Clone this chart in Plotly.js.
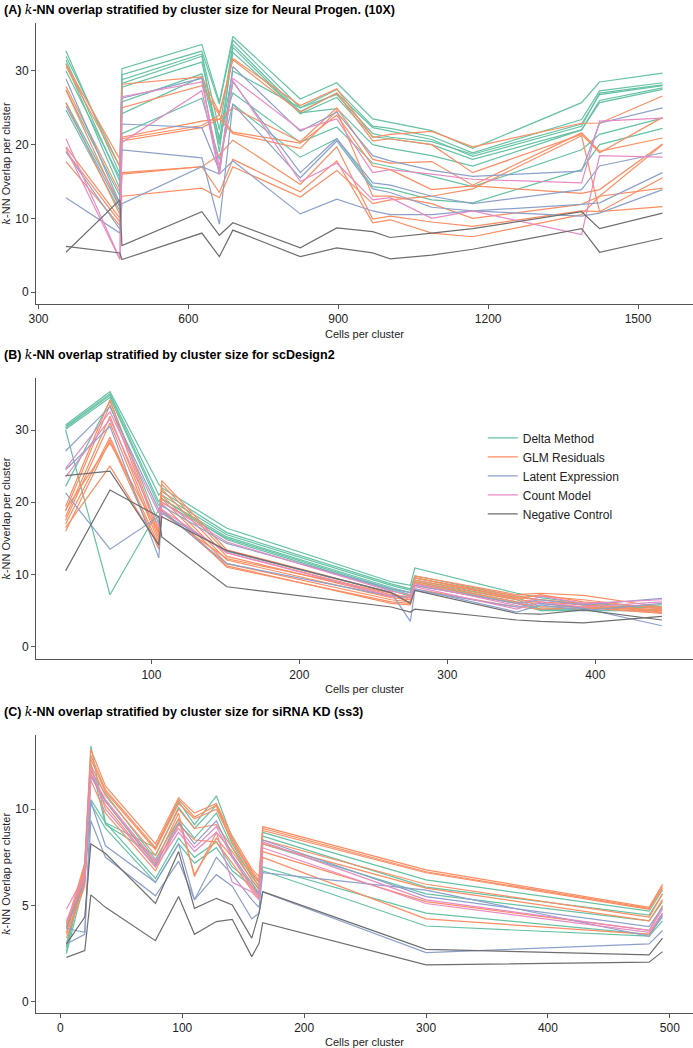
<!DOCTYPE html>
<html>
<head>
<meta charset="utf-8">
<script src="https://cdn.plot.ly/plotly-3.0.1.min.js"></script>
<style>
  body { margin: 0; background: #fff; }
  #graph { width: 693px; height: 1048px; }
</style>
</head>
<body>
<div id="graph"></div>
<script>
// cluster sizes (x) for each panel
var aX = [355, 463, 467, 627, 662, 689, 824, 897, 969, 1004, 1087, 1169, 1387, 1423, 1549];
var bX = [42, 72, 105, 107, 151, 262, 275, 278, 347, 363, 392, 445];
var cX = [5, 20, 25, 37, 78, 97, 110, 128, 141, 157, 163, 166, 300, 483, 494];

var methods = ['Delta Method', 'GLM Residuals', 'Latent Expression', 'Count Model', 'Negative Control'];
var colors = ['#66c2a5', '#fc8d62', '#8da0cb', '#e78ac3', '#6e6e6e'];

// (A) Neural Progen. (10X)
var aDelta = [
  [32.7, 16, 30.3, 33.6, 25.8, 34.7, 26.2, 28.4, 23.5, 23.0, 21.9, 19.5, 25.7, 28.5, 29.7],
  [32.0, 17, 29.5, 32.7, 25.5, 34.2, 25.0, 27.5, 22.5, 22.2, 21.1, 18.9, 23.4, 27.3, 28.4],
  [31.5, 15, 28.8, 32.3, 22.0, 33.6, 24.5, 27.0, 22.3, 21.8, 20.7, 18.4, 22.5, 27.0, 28.1],
  [31.0, 14, 28.3, 32.0, 19.0, 33.2, 24.2, 26.4, 21.1, 20.8, 20.0, 18.0, 22.0, 26.0, 27.7],
  [27.4, 13, 27.8, 31.2, 20.5, 32.5, 24.3, 24.9, 20.0, 19.5, 18.5, 17.1, 22.0, 25.7, 27.5],
  [25.7, 12, 25.8, 29.6, 21.0, 27.0, 20.3, 22.4, 17.5, 17.0, 15.7, 14.3, 19.3, 21.4, 23.6],
  [24.7, 11, 21.5, 26.3, 18.0, 25.5, 18.3, 20.8, 14.3, 14.0, 12.5, 12.1, 16.6, 20.0, 22.2],
  [30.0, 15.5, 24.2, 29.2, 20.0, 30.0, 25.0, 26.8, 21.5, 21.0, 20.4, 18.7, 22.8, 26.8, 28.0]
];
var aGlm = [
  [30.9, 18, 28.2, 29.2, 24.3, 31.7, 25.3, 27.6, 21.0, 21.4, 21.8, 19.7, 22.9, 22.9, 26.6],
  [30.6, 17, 25.0, 28.0, 24.0, 31.5, 24.4, 27.0, 20.5, 20.8, 20.0, 16.2, 21.4, 18.9, 23.7],
  [27.9, 13.5, 21.0, 23.2, 23.5, 25.0, 20.4, 25.0, 18.0, 17.5, 17.7, 14.5, 21.6, 19.1, 20.9],
  [27.4, 11.5, 20.8, 22.6, 24.0, 21.7, 20.2, 24.0, 17.1, 16.6, 13.9, 14.4, 13.4, 13.9, 20.1],
  [19.7, 10, 20.5, 22.3, 23.5, 21.5, 19.5, 24.6, 13.0, 13.0, 12.0, 10.0, 11.9, 13.0, 20.0],
  [19.1, 9.5, 16.2, 17.0, 18.6, 20.6, 14.6, 19.7, 9.9, 10.3, 9.5, 8.9, 11.0, 10.9, 15.5],
  [17.7, 9.0, 16.0, 17.0, 13.5, 18.0, 13.6, 17.8, 9.4, 9.8, 8.0, 7.5, 10.5, 13.0, 14.1],
  [25.7, 10.5, 13.0, 14.1, 12.8, 17.0, 12.9, 16.5, 12.0, 12.5, 13.0, 14.0, 21.2, 10.9, 11.6]
];
var aLatent = [
  [28.9, 12, 26.3, 29.0, 16.0, 30.6, 21.8, 24.4, 18.5, 17.8, 16.5, 15.7, 16.4, 22.9, 25.0],
  [25.2, 11.5, 22.8, 22.3, 16.5, 28.5, 16.2, 20.8, 14.8, 14.5, 13.0, 12.0, 13.9, 17.1, 18.9],
  [19.0, 8.5, 19.3, 18.2, 9.2, 25.5, 15.5, 20.5, 14.0, 13.5, 11.5, 11.0, 11.9, 12.1, 16.2],
  [12.8, 8.0, 12.0, 17.0, 16.0, 17.8, 10.6, 12.6, 11.0, 10.5, 10.5, 11.0, 10.3, 10.7, 13.9]
];
var aCount = [
  [20.8, 4.5, 20.3, 27.3, 16.0, 29.0, 22.0, 23.5, 16.2, 16.6, 16.0, 15.3, 14.8, 23.2, 23.6],
  [19.5, 4.4, 26.5, 28.5, 17.0, 28.7, 15.0, 17.5, 12.5, 12.8, 10.0, 11.0, 7.8, 18.5, 18.3]
];
var aNeg = [
  [5.4, 12.5, 6.3, 10.9, 7.7, 9.4, 6.0, 8.7, 8.2, 7.4, 8.0, 8.6, 10.9, 8.6, 10.7],
  [6.2, 5.3, 4.4, 8.0, 4.8, 8.4, 4.8, 6.0, 5.3, 4.5, 5.0, 5.8, 8.6, 5.4, 7.3]
];

// (B) scDesign2
var bDelta = [
  [30.7, 35.3, 22.5, 22.0, 16.4, 9.0, 8.5, 10.9, 7.4, 6.8, 6.0, 5.5],
  [30.5, 35.0, 21.0, 21.5, 15.8, 8.7, 8.0, 9.8, 7.0, 6.5, 5.8, 5.3],
  [30.3, 34.8, 20.0, 21.0, 15.5, 8.5, 7.8, 9.5, 6.8, 5.5, 5.5, 5.0],
  [30.1, 34.5, 19.5, 20.5, 15.2, 8.2, 7.5, 9.2, 6.5, 5.2, 5.2, 5.8],
  [30.0, 7.2, 19.0, 20.0, 15.0, 8.0, 7.2, 9.0, 6.2, 5.1, 5.3, 5.5],
  [22.2, 34.0, 17.0, 20.5, 14.8, 7.8, 7.0, 8.8, 6.0, 5.0, 5.0, 5.0]
];
var bGlm = [
  [19.4, 34.2, 16.0, 23.0, 13.4, 7.5, 6.5, 9.8, 7.2, 7.4, 7.1, 5.5],
  [18.8, 33.5, 15.5, 22.5, 13.0, 7.2, 6.8, 9.5, 7.0, 7.0, 6.5, 5.2],
  [18.0, 31.9, 15.0, 21.8, 12.5, 7.0, 7.0, 9.2, 6.8, 6.5, 6.0, 5.0],
  [17.5, 31.0, 14.5, 21.0, 12.0, 6.8, 6.5, 9.0, 6.5, 6.2, 5.8, 4.8],
  [17.0, 29.0, 14.0, 20.5, 11.5, 6.5, 6.2, 8.8, 6.2, 6.0, 5.5, 4.7],
  [16.0, 28.6, 13.5, 19.8, 11.0, 6.2, 6.0, 8.5, 6.0, 5.5, 5.6, 5.1],
  [19.0, 28.2, 15.8, 19.0, 11.2, 6.0, 5.8, 8.0, 5.5, 5.2, 5.4, 4.6],
  [16.5, 25.0, 14.0, 18.5, 12.2, 7.4, 6.0, 9.6, 6.6, 7.2, 6.2, 5.4]
];
var bLatent = [
  [27.1, 33.2, 19.0, 19.5, 14.3, 8.0, 7.5, 8.5, 6.0, 6.5, 5.8, 6.7],
  [24.5, 30.5, 12.3, 18.5, 13.2, 7.5, 3.5, 7.8, 5.5, 6.0, 5.3, 2.9],
  [21.3, 13.5, 18.0, 18.8, 11.5, 7.0, 6.8, 8.0, 4.8, 5.8, 5.0, 6.0]
];
var bCount = [
  [24.7, 32.5, 18.5, 20.0, 14.5, 7.7, 7.2, 8.7, 5.7, 7.0, 6.0, 6.5],
  [23.5, 31.5, 16.5, 19.0, 13.0, 7.0, 6.8, 8.3, 5.2, 6.2, 5.5, 6.2]
];
var bNeg = [
  [23.7, 24.3, 14.1, 18.0, 13.3, 7.5, 6.0, 7.8, 4.6, 4.5, 5.1, 3.7],
  [10.5, 21.7, 18.0, 15.2, 8.3, 5.5, 4.8, 5.2, 3.7, 3.5, 3.3, 4.2]
];

// (C) siRNA KD (ss3)
var cDelta = [
  [2.9, 7.2, 13.3, 9.3, 8.0, 10.4, 9.2, 10.7, 8.5, 6.6, 6.2, 8.8, 6.33, 4.7, 5.8],
  [2.6, 7.0, 12.4, 9.2, 7.6, 10.1, 9.0, 10.2, 8.2, 6.5, 6.0, 8.6, 5.95, 4.5, 5.6],
  [2.8, 6.8, 12.0, 10.8, 7.4, 9.5, 8.5, 9.8, 8.0, 6.3, 5.9, 8.2, 5.6, 4.2, 5.2],
  [3.0, 6.5, 10.5, 9.3, 6.4, 8.5, 7.5, 8.3, 7.0, 6.2, 5.6, 7.0, 4.6, 3.5, 4.4],
  [2.5, 6.3, 10.3, 9.0, 6.2, 8.2, 7.2, 8.0, 6.8, 6.0, 5.5, 6.8, 3.93, 3.4, 4.2]
];
var cGlm = [
  [4.0, 7.2, 13.1, 11.2, 8.2, 10.6, 9.8, 10.3, 8.6, 6.9, 6.5, 9.1, 6.85, 4.9, 6.1],
  [3.8, 7.0, 12.8, 11.0, 8.0, 10.5, 9.6, 10.2, 8.4, 6.8, 6.3, 9.0, 6.75, 4.85, 6.0],
  [3.6, 6.8, 12.6, 10.9, 7.9, 10.3, 9.5, 10.0, 8.3, 6.7, 6.2, 8.9, 6.7, 4.8, 5.9],
  [4.1, 6.6, 12.3, 10.7, 7.6, 10.0, 9.0, 9.2, 8.0, 6.5, 6.0, 8.4, 6.1, 4.4, 5.6],
  [3.9, 6.5, 12.0, 10.4, 7.2, 9.8, 6.5, 8.8, 7.8, 6.3, 5.8, 8.2, 5.9, 4.2, 5.3],
  [3.5, 6.2, 11.8, 10.2, 7.0, 9.5, 6.6, 8.5, 7.5, 6.0, 5.6, 7.8, 5.2, 3.7, 5.0],
  [3.3, 6.0, 11.5, 9.8, 6.8, 9.2, 8.4, 8.3, 7.2, 5.8, 5.4, 7.5, 4.3, 3.5, 4.6]
];
var cLatent = [
  [3.8, 6.3, 11.7, 10.4, 7.1, 9.3, 8.2, 9.4, 7.6, 6.1, 5.6, 8.4, 5.46, 3.9, 4.9],
  [3.8, 3.6, 10.4, 8.1, 6.2, 8.2, 5.3, 7.5, 6.6, 5.3, 4.9, 6.7, 5.8, 3.4, 4.5],
  [3.0, 3.5, 9.4, 7.5, 5.5, 7.3, 5.3, 6.6, 6.0, 4.3, 4.6, 5.7, 2.55, 3.0, 3.7]
];
var cCount = [
  [4.8, 6.6, 11.8, 10.5, 7.3, 9.0, 8.0, 9.1, 7.5, 5.9, 5.5, 8.3, 5.29, 3.7, 4.8],
  [4.2, 6.4, 12.2, 10.0, 7.0, 8.8, 7.8, 8.8, 6.2, 5.7, 5.3, 8.0, 5.1, 3.6, 4.6]
];
var cNeg = [
  [3.0, 4.4, 8.2, 7.7, 5.1, 7.8, 4.85, 5.37, 5.03, 3.3, 4.6, 5.72, 2.72, 2.43, 3.3],
  [2.3, 2.65, 5.55, 4.9, 3.17, 5.46, 3.5, 4.16, 4.28, 2.34, 3.03, 4.1, 1.91, 2.05, 2.6]
];

var data = [];
function addPanel(x, groups, xa, ya, legend){
  for (var m = 0; m < groups.length; m++){
    for (var i = 0; i < groups[m].length; i++){
      data.push({
        x: x,
        y: groups[m][i],
        xaxis: xa,
        yaxis: ya,
        mode: 'lines',
        name: methods[m],
        legendgroup: methods[m],
        showlegend: legend && i == 0,
        line: {color: colors[m], width: 1.2},
        hoverinfo: 'skip'
      });
    }
  }
}
addPanel(aX, [aDelta, aGlm, aLatent, aCount, aNeg], 'x', 'y', true);
addPanel(bX, [bDelta, bGlm, bLatent, bCount, bNeg], 'x2', 'y2', false);
addPanel(cX, [cDelta, cGlm, cLatent, cCount, cNeg], 'x3', 'y3', false);

var fontFam = 'Liberation Sans, Arial, sans-serif';
var kk = '<span style="font-family:DejaVu Serif;font-weight:normal"><i>k</i></span>';

function xAxis(range, dtick, anchor){
  return {
    range: range, dtick: dtick, anchor: anchor, domain: [0, 1],
    showline: true, linecolor: '#555', linewidth: 1,
    ticks: 'outside', ticklen: 4, tickcolor: '#555',
    showgrid: false, zeroline: false,
    tickfont: {size: 12, color: '#222'},
    title: {text: 'Cells per cluster', font: {size: 11, color: '#222'}, standoff: 4},
    automargin: false
  };
}
function yAxis(range, dtick, domain, anchor){
  return {
    range: range, dtick: dtick, domain: domain, anchor: anchor,
    showline: true, linecolor: '#555', linewidth: 1,
    ticks: 'outside', ticklen: 4, tickcolor: '#555',
    showgrid: false, zeroline: false,
    tickfont: {size: 12, color: '#222'},
    title: {text: kk + '-NN Overlap per cluster', font: {size: 11, color: '#222'}, standoff: 4},
    automargin: false
  };
}

function panelTitle(text, ypx){
  return {
    text: '<b>' + text + '</b>',
    xref: 'paper', yref: 'paper',
    x: -34 / 657, y: 1 - ypx / 1048,
    xanchor: 'left', yanchor: 'top',
    showarrow: false,
    font: {size: 12.5, color: '#000', family: fontFam}
  };
}

var layout = {
  width: 693,
  height: 1048,
  margin: {l: 36, r: 0, t: 0, b: 0},
  paper_bgcolor: '#fff',
  plot_bgcolor: '#fff',
  font: {family: fontFam, color: '#222'},
  showlegend: true,
  legend: {
    x: 0.68, y: 0.596, xanchor: 'left', yanchor: 'top',
    font: {size: 12, color: '#222'},
    tracegroupgap: 0,
    bgcolor: 'rgba(0,0,0,0)'
  },
  xaxis: xAxis([295, 1610], 300, 'y'),
  yaxis: yAxis([-1.63, 36.5], 10, [0.7099, 0.978], 'x'),
  xaxis2: xAxis([22, 466], 100, 'y2'),
  yaxis2: yAxis([-1.74, 37.2], 10, [0.3709, 0.6393], 'x2'),
  xaxis3: xAxis([-20, 519], 100, 'y3'),
  yaxis3: yAxis([-0.59, 13.86], 5, [0.0334, 0.2987], 'x3'),
  annotations: [
    panelTitle('(A) ' + kk + '-NN overlap stratified by cluster size for Neural Progen. (10X)', 0),
    panelTitle('(B) ' + kk + '-NN overlap stratified by cluster size for scDesign2', 345),
    panelTitle('(C) ' + kk + '-NN overlap stratified by cluster size for siRNA KD (ss3)', 702)
  ]
};

Plotly.newPlot('graph', data, layout, {staticPlot: true});
</script>
</body>
</html>
